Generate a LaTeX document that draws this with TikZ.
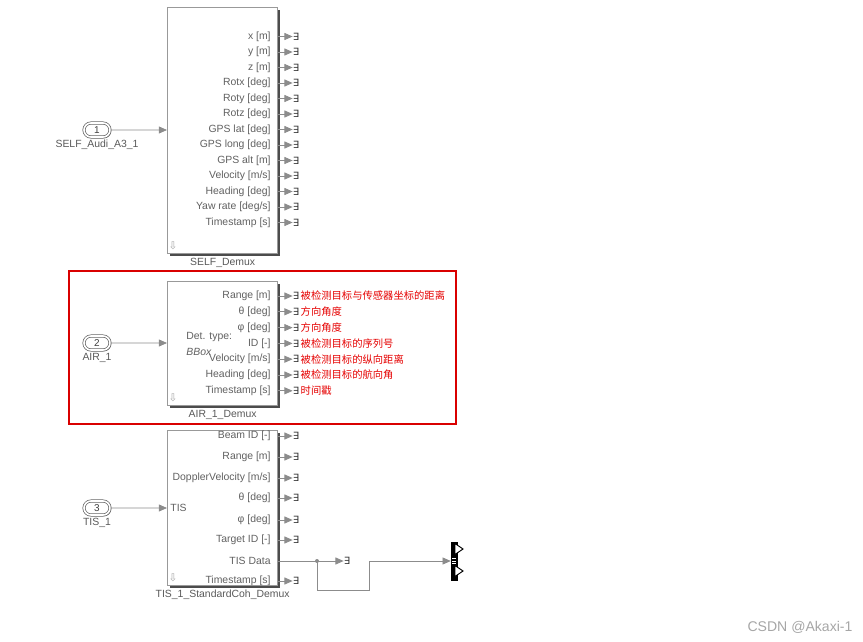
\documentclass[tikz,border=0pt]{standalone}
\usepackage{fontspec}
\setmainfont{Liberation Sans}
\newfontfamily\cjk{Noto Sans CJK SC}
\newfontfamily\dejavu{DejaVu Sans}
\usetikzlibrary{arrows.meta, positioning, calc, shapes.misc, shadows}

\begin{document}
\begin{tikzpicture}[
    x=0.03cm, y=-0.03cm,
    blk/.style={
        draw=black!40, line width=1.1pt, fill=white, inner sep=0pt, anchor=north west,
        drop shadow={shadow xshift=1.8pt, shadow yshift=-1.8pt, fill=black!70, opacity=1}
    },
    inp/.style={
        rounded rectangle, draw=black!60, fill=white, double=white, double distance=1.4pt, line width=0.6pt,
        minimum width=0.78cm, minimum height=0.42cm, inner sep=0pt,
        font=\fontsize{8.5}{9}\selectfont, text=black!75,
        drop shadow={shadow xshift=1pt, shadow yshift=-1pt, fill=black!50, opacity=1}
    },
    lbl/.style={font=\fontsize{8.9}{10}\selectfont, text=black!62, inner sep=1pt},
    blkname/.style={font=\fontsize{8.9}{10}\selectfont, text=black!65, inner sep=1pt},
    note/.style={font=\cjk\fontsize{8.8}{10}\selectfont, text=red!90!black, inner sep=0pt, anchor=west},
    term/.style={font=\dejavu\fontsize{8.5}{8.5}\selectfont, text=black!80, inner sep=0pt},
    icon/.style={font=\dejavu\fontsize{9}{9}\selectfont, text=black!35, inner sep=0pt},
    sig/.style={draw=black!45, line width=0.7pt, -{Triangle[length=7pt, width=6pt]}},
    wire/.style={draw=black!45, line width=0.7pt}
]
\useasboundingbox (0,0) rectangle (863,642);

% SELF block
\node[blk, minimum width=3.3cm, minimum height=7.38cm] (self) at (167,7) {};
\foreach \t [count=\i] in {x [m], y [m], z [m], Rotx [deg], Roty [deg], Rotz [deg],
        GPS lat [deg], GPS long [deg], GPS alt [m], {Velocity [m/s]}, Heading [deg],
        {Yaw rate [deg/s]}, Timestamp [s]} {
    \node[lbl, anchor=east] (sl\i) at (272, {36.5+(\i-1)*15.5}) {\t};
    \node[term] (st\i) at (296, {36.5+(\i-1)*15.5}) {∃};
    \draw[sig] (self.east |- st\i) -- (st\i.west);
}
\node[icon] (sicon) at (173,246) {⇩};
\node[blkname, below=2pt of self] (sname) {SELF\_Demux};

\node[inp] (in1) at (97,130) {1};
\node[blkname, below=1pt of in1] (in1name) {SELF\_Audi\_A3\_1};
\draw[sig] (in1) -- (in1 -| self.west);

% AIR block
\draw[red!85!black, line width=0.9pt] (69,271) rectangle (456,424);
\node[blk, minimum width=3.3cm, minimum height=3.72cm] (air) at (167,281) {};
\foreach \t/\c [count=\i] in {Range [m]/被检测目标与传感器坐标的距离, θ [deg]/方向角度,
        φ [deg]/方向角度, ID [-]/被检测目标的序列号, {Velocity [m{/}s]}/被检测目标的纵向距离,
        Heading [deg]/被检测目标的航向角, Timestamp [s]/时间戳} {
    \node[lbl, anchor=east] (al\i) at (272, {296+(\i-1)*15.8}) {\t};
    \node[term] (at\i) at (296, {296+(\i-1)*15.8}) {∃};
    \draw[sig] (air.east |- at\i) -- (at\i.west);
    \node[note] (an\i) at (300.5, {296+(\i-1)*15.8}) {\c};
}
\node[lbl, anchor=west] (dettype) at (185,337) {Det. type:};
\node[lbl, anchor=west] (bbox) at (185,352) {\itshape BBox};
\node[icon] (aicon) at (173,398) {⇩};
\node[blkname, below=2pt of air] (aname) {AIR\_1\_Demux};

\node[inp] (in2) at (97,343) {2};
\node[blkname, below=1pt of in2] (in2name) {AIR\_1};
\draw[sig] (in2) -- (in2 -| air.west);

% TIS block
\node[blk, minimum width=3.3cm, minimum height=4.65cm] (tis) at (167,430) {};
\foreach \t/\yy [count=\i] in {Beam ID [-]/436, Range [m]/457, {DopplerVelocity [m{/}s]}/478,
        θ [deg]/498, φ [deg]/520, Target ID [-]/540, Timestamp [s]/581} {
    \node[lbl, anchor=east] (tl\i) at (272,\yy) {\t};
    \node[term] (tt\i) at (296,\yy) {∃};
    \draw[sig] (tis.east |- tt\i) -- (tt\i.west);
}
\node[lbl, anchor=east] (tdata) at (272,561) {TIS Data};
\node[lbl, anchor=west] (tisin) at (169,508) {TIS};
\node[icon] (ticon) at (173,578) {⇩};
\node[blkname, below=2pt of tis] (tname) {TIS\_1\_StandardCoh\_Demux};

\node[inp] (in3) at (97,508) {3};
\node[blkname, below=1pt of in3] (in3name) {TIS\_1};
\draw[sig] (in3) -- (in3 -| tis.west);

% TIS Data branch and mux
\node[fill=black, minimum width=0.21cm, minimum height=1.17cm, inner sep=0pt] (mux) at (454.5,561) {};
\fill[black!45] (317,561) circle (1.7pt) coordinate (br);
\node[term] (tt8) at (347,561) {∃};
\coordinate (jog) at (369,590);
\draw[wire] (tis.east |- br) -- (br);
\draw[sig] (br) -- (tt8.west);
\draw[sig] (br) |- (jog) -- (jog |- br) -- (mux.west |- br);
\foreach \yy in {549, 571} {
    \draw[fill=white, draw=black, line width=0.8pt] (455,{\yy-5.5}) -- (463,\yy) -- (455,{\yy+5.5}) -- cycle;
}
\foreach \yy in {558.5, 561, 563.5} {
    \draw[white, line width=0.5pt] (452,\yy) -- (456,\yy);
}

\node[font=\fontsize{12}{14}\selectfont, text=black!35] (mark) at (800,627) {CSDN @Akaxi-1};
\end{tikzpicture}
\end{document}
